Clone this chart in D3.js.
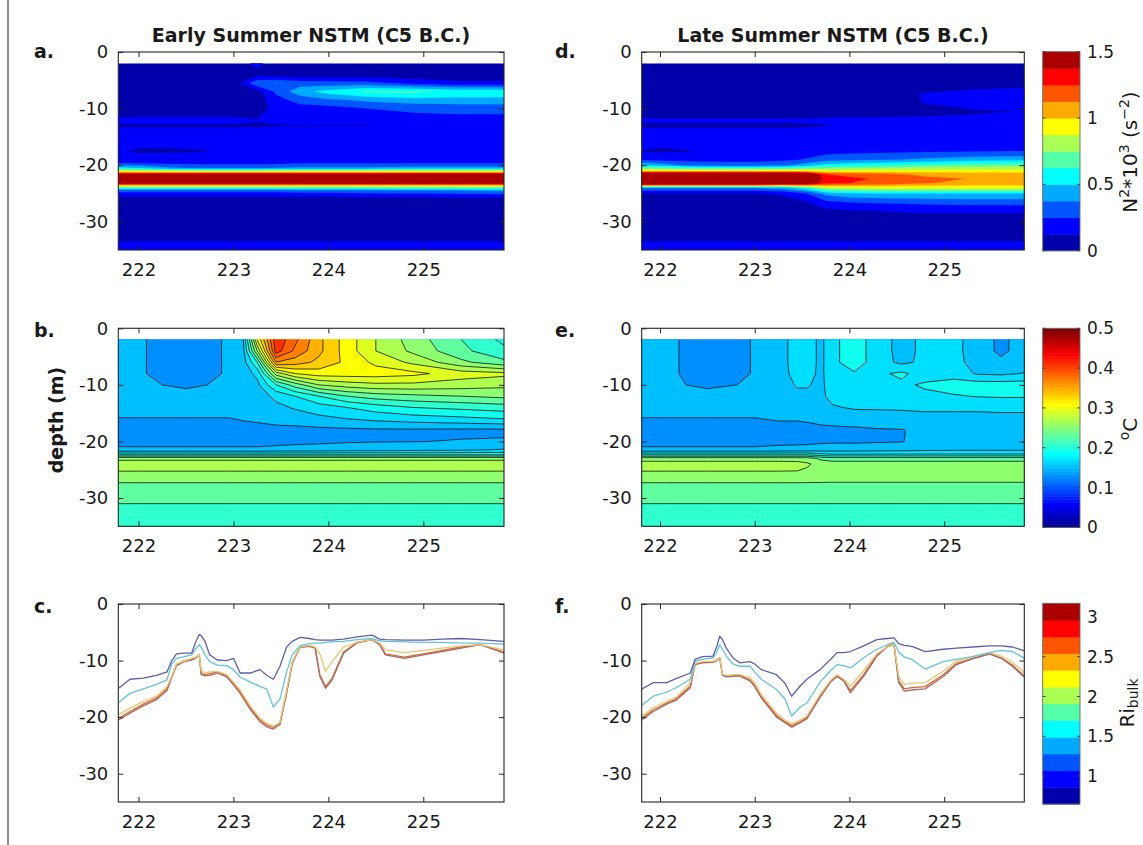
<!DOCTYPE html>
<html>
<head>
<meta charset="utf-8">
<script src="https://cdn.jsdelivr.net/npm/d3@7"></script>
<style>
  body { margin: 0; background: #fff; }
  svg { display: block; }
  text { font-family: "DejaVu Sans", "Liberation Sans", sans-serif; fill: #1a1a1a; }
</style>
</head>
<body>
<svg id="fig" width="1143" height="845"></svg>
<script>
// ---------------- N^2 * 10^3 (s^-2), early summer ----------------
const n2EarlyTimes  = [221.79, 222.0, 222.3, 222.7, 223.0, 223.25, 223.45, 223.7, 224.0, 224.4, 224.9, 225.4, 225.85];
const n2EarlyDepths = [-2, -4, -5.5, -7, -8.5, -10, -12, -13, -15, -17.5, -19.5, -20.5, -21.2, -21.8, -23, -23.7, -24.5, -26, -30, -33.3, -34, -35];
const n2Early = [
  [.05,.05,.05,.05,.05,.16,.05,.05,.05,.05,.05,.05,.05],
  [.05,.05,.05,.05,.05,.08,.05,.05,.06,.05,.05,.05,.05],
  [.05,.05,.05,.05,.05,.35,.38,.32,.30,.30,.20,.15,.15],
  [.05,.05,.05,.05,.05,.08,.28,.45,.55,.65,.66,.60,.60],
  [.05,.05,.05,.05,.05,.05,.20,.30,.35,.40,.45,.45,.45],
  [.05,.05,.05,.05,.05,.05,.18,.20,.20,.25,.28,.30,.30],
  [.15,.15,.15,.15,.15,.13,.15,.20,.19,.19,.20,.20,.20],
  [.115,.115,.115,.115,.115,.115,.12,.12,.12,.12,.18,.18,.18],
  [.18,.18,.18,.18,.18,.18,.18,.18,.19,.19,.19,.19,.19],
  [.14,.11,.11,.12,.18,.18,.18,.18,.19,.19,.19,.19,.19],
  [.20,.20,.20,.20,.20,.20,.20,.22,.22,.22,.22,.22,.22],
  [.55,.50,.40,.35,.35,.35,.38,.40,.40,.40,.42,.42,.42],
  [1.0,1.0,1.0,1.0,1.0,1.0,1.0,1.0,1.0,1.0,1.0,1.0,1.0],
  [1.7,1.7,1.7,1.7,1.7,1.7,1.7,1.7,1.7,1.7,1.7,1.7,1.7],
  [1.7,1.7,1.7,1.7,1.7,1.7,1.7,1.7,1.7,1.7,1.7,1.7,1.7],
  [.90,.90,.90,.90,.90,.90,.90,.90,.90,.90,.90,.90,.90],
  [.30,.30,.30,.30,.30,.30,.30,.32,.32,.34,.36,.38,.40],
  [.05,.05,.05,.05,.05,.05,.05,.05,.05,.05,.05,.05,.05],
  [.05,.05,.05,.05,.05,.05,.05,.05,.05,.05,.05,.05,.05],
  [.10,.10,.10,.10,.10,.10,.10,.10,.10,.10,.10,.10,.10],
  [.18,.18,.18,.18,.18,.18,.18,.18,.18,.18,.18,.18,.18],
  [.18,.18,.18,.18,.18,.18,.18,.18,.18,.18,.18,.18,.18]
];

// ---------------- N^2 * 10^3 (s^-2), late summer ----------------
const n2LateTimes  = [221.8, 222.0, 222.3, 222.7, 223.0, 223.3, 223.55, 223.75, 224.0, 224.4, 224.8, 225.3, 225.85];
const n2LateDepths = [-2, -4, -6, -7.5, -9, -10.5, -12, -13, -15, -17.5, -19, -20, -21, -21.6, -22.4, -23.2, -24, -25, -26.5, -28, -31, -33.3, -34, -35];
const n2Late = [
  [.05,.05,.05,.05,.05,.05,.05,.05,.05,.05,.05,.05,.05],
  [.05,.05,.05,.05,.05,.05,.05,.05,.05,.05,.05,.05,.05],
  [.05,.05,.05,.05,.05,.05,.05,.05,.05,.05,.05,.08,.10],
  [.05,.05,.05,.05,.05,.05,.05,.05,.05,.05,.14,.19,.20],
  [.05,.05,.05,.05,.05,.05,.05,.05,.05,.05,.13,.20,.20],
  [.05,.05,.05,.05,.05,.05,.05,.05,.05,.05,.06,.10,.13],
  [.14,.14,.14,.14,.14,.14,.14,.15,.16,.17,.17,.17,.17],
  [.11,.11,.11,.11,.11,.11,.115,.12,.16,.18,.18,.18,.18],
  [.18,.18,.18,.18,.18,.18,.18,.19,.19,.19,.20,.20,.20],
  [.12,.11,.12,.18,.18,.18,.19,.20,.21,.22,.23,.24,.25],
  [.22,.20,.20,.20,.20,.22,.26,.32,.34,.36,.40,.44,.46],
  [.50,.45,.35,.32,.32,.35,.45,.55,.58,.62,.66,.70,.72],
  [.95,.95,.95,.95,.95,.95,.95,.90,.90,.92,.92,.92,.92],
  [1.7,1.7,1.7,1.7,1.7,1.7,1.6,1.25,1.2,1.15,1.1,1.08,1.08],
  [1.7,1.7,1.7,1.7,1.7,1.7,1.65,1.32,1.28,1.22,1.15,1.12,1.12],
  [1.7,1.7,1.7,1.7,1.7,1.6,1.55,1.28,1.25,1.2,1.13,1.1,1.1],
  [.40,.40,.40,.40,.40,.45,.60,.85,.88,.90,.90,.90,.90],
  [.12,.12,.12,.12,.12,.15,.25,.42,.48,.50,.50,.50,.50],
  [.05,.05,.05,.05,.05,.06,.12,.22,.26,.28,.30,.32,.32],
  [.05,.05,.05,.05,.05,.05,.06,.10,.12,.13,.14,.14,.14],
  [.05,.05,.05,.05,.05,.05,.05,.05,.05,.05,.05,.05,.05],
  [.10,.10,.10,.10,.10,.10,.10,.10,.10,.10,.10,.10,.10],
  [.18,.18,.18,.18,.18,.18,.18,.18,.18,.18,.18,.18,.18],
  [.18,.18,.18,.18,.18,.18,.18,.18,.18,.18,.18,.18,.18]
];

// ---------------- temperature anomaly (°C), early summer ----------------
const tempEarlyTimes  = [221.79, 222.0, 222.5, 222.95, 223.1, 223.25, 223.45, 223.65, 223.9, 224.2, 224.5, 224.9, 225.4, 225.85];
const tempDepths      = [-2, -4, -6, -8, -10, -12, -14, -16, -18, -20, -21.5, -22.3, -23, -24, -25.5, -27.5, -30, -33, -35];
const tempEarly = [
  [.15,.142,.13,.142,.155,.30,.415,.385,.345,.31,.28,.25,.22,.195],
  [.15,.142,.13,.142,.152,.26,.41,.375,.345,.31,.28,.255,.225,.205],
  [.15,.142,.13,.142,.15,.20,.36,.35,.335,.315,.295,.275,.245,.225],
  [.15,.142,.13,.142,.15,.165,.27,.30,.31,.31,.31,.305,.29,.285],
  [.15,.145,.135,.145,.15,.155,.20,.23,.26,.27,.275,.275,.27,.265],
  [.15,.15,.15,.15,.15,.15,.165,.18,.20,.22,.23,.235,.24,.245],
  [.15,.15,.15,.15,.15,.15,.155,.162,.17,.18,.19,.20,.205,.21],
  [.139,.139,.139,.139,.142,.145,.15,.15,.155,.16,.165,.17,.175,.18],
  [.13,.13,.13,.13,.13,.13,.132,.134,.135,.136,.137,.137,.136,.136],
  [.13,.13,.13,.13,.13,.13,.132,.134,.136,.138,.139,.1395,.141,.142],
  [.146,.146,.146,.146,.146,.146,.148,.15,.15,.152,.153,.155,.157,.162],
  [.195,.195,.195,.195,.195,.195,.195,.195,.195,.195,.195,.195,.195,.195],
  [.255,.255,.255,.255,.255,.255,.255,.255,.255,.255,.255,.255,.255,.255],
  [.27,.27,.27,.27,.27,.27,.27,.27,.27,.27,.27,.27,.27,.27],
  [.258,.258,.258,.258,.258,.258,.258,.258,.258,.258,.258,.258,.258,.258],
  [.238,.238,.238,.238,.238,.238,.238,.238,.238,.238,.238,.238,.238,.238],
  [.224,.224,.224,.224,.224,.224,.224,.224,.224,.224,.224,.224,.224,.224],
  [.212,.212,.212,.212,.212,.212,.212,.212,.212,.212,.212,.212,.212,.212],
  [.208,.208,.208,.208,.208,.208,.208,.208,.208,.208,.208,.208,.208,.208]
];

// ---------------- temperature anomaly (°C), late summer ----------------
const tempLateTimes = [221.8, 222.05, 222.5, 223.0, 223.25, 223.45, 223.55, 223.7, 223.82, 224.05, 224.3, 224.55, 224.8, 225.1, 225.35, 225.6, 225.85];
const tempLate = [
  [.15,.145,.13,.141,.15,.17,.17,.155,.175,.19,.17,.153,.165,.165,.152,.135,.15],
  [.15,.145,.13,.141,.15,.17,.17,.155,.175,.19,.17,.153,.165,.165,.152,.135,.15],
  [.15,.145,.13,.141,.15,.17,.17,.155,.175,.19,.17,.155,.165,.165,.154,.145,.152],
  [.15,.145,.13,.141,.15,.168,.168,.155,.175,.178,.176,.184,.17,.17,.158,.156,.161],
  [.15,.145,.135,.143,.15,.162,.162,.155,.172,.172,.172,.176,.183,.19,.19,.19,.19],
  [.15,.15,.15,.15,.15,.155,.155,.156,.166,.17,.17,.17,.175,.178,.181,.182,.182],
  [.15,.15,.15,.15,.15,.15,.15,.152,.158,.162,.162,.162,.163,.163,.163,.164,.164],
  [.139,.139,.139,.139,.142,.142,.143,.146,.148,.15,.152,.154,.155,.155,.155,.155,.155],
  [.13,.13,.13,.13,.132,.132,.133,.135,.135,.136,.138,.139,.145,.147,.148,.148,.148],
  [.13,.13,.13,.13,.133,.133,.134,.136,.137,.137,.138,.139,.148,.15,.15,.15,.15],
  [.146,.146,.146,.146,.148,.15,.15,.152,.152,.152,.154,.155,.157,.158,.158,.158,.158],
  [.195,.195,.195,.195,.195,.195,.195,.185,.182,.182,.182,.182,.182,.182,.182,.182,.182],
  [.25,.25,.25,.25,.25,.25,.25,.235,.23,.23,.23,.23,.23,.23,.23,.23,.23],
  [.27,.27,.27,.27,.27,.268,.263,.253,.25,.25,.25,.25,.25,.25,.25,.25,.25],
  [.258,.258,.258,.258,.258,.258,.256,.254,.252,.252,.252,.252,.252,.252,.252,.252,.252],
  [.238,.238,.238,.238,.238,.238,.238,.238,.238,.238,.238,.238,.238,.238,.238,.238,.238],
  [.224,.224,.224,.224,.224,.224,.224,.224,.224,.224,.224,.224,.224,.224,.224,.224,.224],
  [.212,.212,.212,.212,.212,.212,.212,.212,.212,.212,.212,.212,.212,.212,.212,.212,.212],
  [.208,.208,.208,.208,.208,.208,.208,.208,.208,.208,.208,.208,.208,.208,.208,.208,.208]
];

// ---------------- mixed-layer depth (m) for bulk Richardson thresholds ----------------
const riEarlyTimes = [221.79, 221.91, 222.05, 222.19, 222.30, 222.35, 222.40, 222.48, 222.56, 222.60,
                      222.64, 222.66, 222.70, 222.75, 222.83, 222.93, 223.00, 223.07, 223.18, 223.28,
                      223.35, 223.42, 223.49, 223.56, 223.62, 223.70, 223.80, 223.86, 223.91, 223.97,
                      224.04, 224.16, 224.30, 224.46, 224.54, 224.60, 224.80, 225.00, 225.20, 225.40,
                      225.60, 225.85];
const mldEarlyPurple = [-14.9,-13.3,-13.1,-12.6,-12.0,-10.0,-8.8,-8.7,-8.7,-6.8,
                        -5.4,-5.6,-6.6,-9.0,-9.9,-10.0,-9.6,-12.2,-12.2,-11.6,
                        -12.6,-13.3,-11.0,-7.6,-6.6,-5.9,-6.1,-6.3,-6.4,-6.4,
                        -6.4,-6.2,-5.8,-5.5,-6.2,-6.3,-6.4,-6.4,-6.2,-6.1,
                        -6.3,-6.6];
const mldEarlyCyan   = [-17.4,-15.8,-15.0,-14.2,-13.4,-10.6,-9.6,-9.3,-9.0,-8.0,
                        -7.2,-7.6,-9.0,-10.2,-10.8,-10.9,-11.6,-12.9,-13.8,-14.6,
                        -15.0,-18.2,-16.8,-12.0,-9.0,-7.4,-7.0,-6.9,-6.9,-6.8,
                        -6.7,-6.6,-6.3,-6.1,-6.5,-6.6,-6.7,-6.8,-6.8,-6.9,
                        -6.9,-7.1];
const mldEarlyYellow = [-19.6,-18.4,-17.2,-16.3,-14.6,-12.8,-10.6,-10.1,-9.6,-9.4,
                        -9.0,-11.8,-12.2,-12.0,-11.9,-12.5,-13.8,-15.2,-18.1,-20.2,
                        -21.1,-21.6,-20.9,-15.2,-10.2,-7.6,-7.3,-7.6,-8.8,-11.9,
                        -10.2,-7.6,-6.8,-6.3,-6.9,-8.1,-8.6,-8.2,-7.8,-7.4,
                        -7.2,-8.1];
const mldEarlyOrange = [-20.2,-19.0,-17.7,-16.6,-15.0,-12.8,-10.7,-10.0,-9.7,-9.5,
                        -9.0,-12.3,-12.5,-12.3,-12.0,-12.7,-14.0,-15.5,-18.4,-20.5,
                        -21.4,-21.8,-21.0,-15.5,-10.3,-7.6,-7.4,-7.7,-12.5,-14.6,
                        -13.1,-8.5,-6.8,-6.3,-7.1,-8.8,-9.4,-8.8,-8.2,-7.6,
                        -7.2,-8.5];
const mldEarlyBrown  = [-20.5,-19.3,-18.0,-16.9,-15.3,-13.0,-10.9,-10.2,-9.9,-9.6,
                        -9.0,-12.5,-12.7,-12.6,-12.2,-12.9,-14.3,-15.8,-18.7,-20.8,
                        -21.7,-22.1,-21.3,-15.8,-10.5,-7.7,-7.5,-7.8,-12.8,-14.9,
                        -13.4,-8.7,-6.9,-6.3,-7.2,-9.0,-9.6,-9.0,-8.4,-7.8,
                        -7.2,-8.7];

const riLateTimes = [221.80, 221.93, 222.07, 222.17, 222.32, 222.37, 222.45, 222.56, 222.60, 222.63,
                     222.66, 222.70, 222.77, 222.84, 222.95, 223.00, 223.07, 223.23, 223.32, 223.39,
                     223.48, 223.55, 223.69, 223.80, 223.87, 223.94, 224.01, 224.15, 224.29, 224.40,
                     224.47, 224.52, 224.58, 224.66, 224.80, 224.99, 225.13, 225.30, 225.48, 225.60,
                     225.72, 225.85];
const mldLatePurple = [-15.1,-13.9,-13.9,-13.2,-12.2,-9.8,-9.3,-9.2,-7.5,-5.7,
                       -6.3,-7.8,-9.5,-10.4,-10.2,-10.6,-11.6,-12.5,-14.0,-16.3,
                       -14.5,-13.3,-11.6,-9.8,-8.6,-8.6,-8.4,-7.4,-6.3,-6.1,
                       -6.0,-7.0,-7.3,-7.5,-8.4,-8.0,-7.8,-7.6,-7.4,-7.4,
                       -7.6,-8.3];
const mldLateCyan   = [-18.0,-16.3,-15.6,-14.8,-13.3,-10.1,-9.8,-9.5,-8.5,-7.2,
                       -8.0,-9.2,-10.6,-11.0,-11.0,-12.0,-13.3,-15.1,-16.8,-19.8,
                       -18.2,-17.5,-13.8,-11.8,-10.7,-10.9,-11.3,-9.5,-8.0,-7.2,
                       -6.8,-8.5,-9.4,-9.8,-11.5,-10.2,-9.8,-9.3,-8.6,-8.2,
                       -8.4,-9.6];
const mldLateYellow = [-20.0,-18.3,-17.2,-16.5,-13.9,-10.5,-10.2,-10.1,-9.9,-9.5,
                       -12.4,-12.6,-12.5,-12.5,-13.0,-14.0,-16.0,-19.3,-20.5,-21.2,
                       -20.5,-19.8,-16.0,-13.5,-12.5,-13.3,-14.5,-11.8,-8.8,-7.6,
                       -7.2,-12.8,-14.2,-14.0,-13.9,-11.9,-10.1,-9.3,-8.6,-9.2,
                       -10.3,-12.1];
const mldLateOrange = [-20.3,-18.7,-17.5,-16.8,-14.5,-10.6,-10.3,-10.2,-9.9,-9.5,
                       -12.5,-12.8,-12.7,-12.6,-13.4,-14.4,-16.4,-19.7,-20.8,-21.5,
                       -20.8,-20.1,-16.3,-13.7,-12.7,-13.5,-15.3,-12.5,-9.0,-7.5,
                       -7.1,-13.6,-15.0,-14.8,-14.6,-12.5,-10.5,-9.6,-8.8,-9.5,
                       -10.8,-12.8];
const mldLateBrown  = [-20.6,-19.0,-17.7,-17.0,-14.8,-10.7,-10.4,-10.3,-10.0,-9.5,
                       -12.6,-12.9,-12.8,-12.7,-13.6,-14.6,-16.6,-20.0,-21.0,-21.8,
                       -21.0,-20.3,-16.5,-13.8,-12.8,-13.6,-15.7,-12.8,-9.2,-7.6,
                       -7.2,-13.9,-15.4,-15.2,-15.0,-12.8,-10.7,-9.7,-8.8,-9.6,
                       -11.0,-13.0];

// axis ticks and colour-bar ticks
const dayTicks   = [222, 223, 224, 225];
const depthTicks = [0, -10, -20, -30];
const n2Ticks    = [0, 0.5, 1, 1.5];
const tempTicks  = [0, 0.1, 0.2, 0.3, 0.4, 0.5];
const riTicks    = [1, 1.5, 2, 2.5, 3];

// ---------------- layout ----------------
const svg = d3.select("#fig");
const columns = [
  { x0: 118.3, x1: 504, domain: [221.787, 225.85] },
  { x0: 641.7, x1: 1024.3, domain: [221.807, 225.846] }
];
const rowTops = [52, 328.3, 604];
const plotH = 198;
const dataTop = -2;
const frameColor = "#262626";

// MATLAB-style jet colormap with m entries
function matlabJet(m) {
  const n = Math.ceil(m / 4);
  const u = [...d3.range(1, n + 1).map(i => i / n), ...Array(n - 1).fill(1), ...d3.range(n, 0, -1).map(i => i / n)];
  const off = Math.ceil(n / 2) - (m % 4 === 1 ? 1 : 0);
  const cols = Array.from({ length: m }, () => [0, 0, 0]);
  u.forEach((v, k) => {
    const gi = off + k + 1, ri = gi + n, bi = gi - n;
    if (gi >= 1 && gi <= m) cols[gi - 1][1] = v;
    if (ri >= 1 && ri <= m) cols[ri - 1][0] = v;
    if (bi >= 1 && bi <= m) cols[bi - 1][2] = v;
  });
  return cols.map(c => d3.rgb(c[0] * 255, c[1] * 255, c[2] * 255).formatHex());
}
const jet12 = matlabJet(12);
const jet64 = matlabJet(64);
const tempColor = v => jet64[Math.max(0, Math.min(63, Math.floor(v / 0.5 * 64)))];

let clipCount = 0;
function makePanel(col, row) {
  const c = columns[col];
  const x = d3.scaleLinear().domain(c.domain).range([c.x0, c.x1]);
  const y = d3.scaleLinear().domain([-35, 0]).range([rowTops[row] + plotH, rowTops[row]]);
  const g = svg.append("g");
  const id = "clip" + (clipCount++);
  svg.append("clipPath").attr("id", id).append("rect")
    .attr("x", c.x0).attr("y", y(0)).attr("width", c.x1 - c.x0).attr("height", plotH);
  return { g, x, y, clipId: id, x0: c.x0, x1: c.x1 };
}

// filled contour field on an irregular time/depth grid
function drawField(p, times, depths, rows, thresholds, colorFor, baseColor, lined) {
  const { g, x, y } = p;
  const nx = times.length + 2, ny = depths.length + 2;
  const padT = [times[0] - 0.5, ...times, times[times.length - 1] + 0.5];
  const padD = [depths[0] + 2, ...depths, depths[depths.length - 1] - 2];
  const grid = new Float64Array(nx * ny);
  for (let j = 0; j < ny; j++) {
    const r = rows[Math.max(0, Math.min(depths.length - 1, j - 1))];
    for (let i = 0; i < nx; i++) grid[j * nx + i] = r[Math.max(0, Math.min(times.length - 1, i - 1))];
  }
  const ti = d3.scaleLinear().domain(d3.range(nx)).range(padT);
  const di = d3.scaleLinear().domain(d3.range(ny)).range(padD);
  const path = d3.geoPath(d3.geoTransform({
    point(px, py) { this.stream.point(x(ti(px - 0.5)), y(di(py - 0.5))); }
  }));
  const clipData = "dclip" + (clipCount++);
  svg.append("clipPath").attr("id", clipData).append("rect")
    .attr("x", p.x0).attr("y", y(dataTop)).attr("width", p.x1 - p.x0).attr("height", y(-35) - y(dataTop));
  const layer = g.append("g").attr("clip-path", `url(#${clipData})`);
  layer.append("rect").attr("x", p.x0).attr("y", y(dataTop))
    .attr("width", p.x1 - p.x0).attr("height", y(-35) - y(dataTop)).attr("fill", baseColor);
  d3.contours().size([nx, ny]).thresholds(thresholds)(grid).forEach(c => {
    layer.append("path").attr("d", path(c))
      .attr("fill", colorFor(c.value))
      .attr("stroke", lined ? "#141414" : "none")
      .attr("stroke-width", lined ? 0.8 : 0)
      .attr("stroke-linejoin", "round");
  });
}

function drawAxes(p) {
  const { g, x, y } = p;
  const fmt = d => String(d);
  const bottom = g.append("g").attr("transform", `translate(0,${y(-35)})`)
    .call(d3.axisBottom(x).tickValues(dayTicks).tickSizeInner(-5).tickSizeOuter(0).tickPadding(13).tickFormat(fmt));
  const top = g.append("g").attr("transform", `translate(0,${y(0)})`)
    .call(d3.axisTop(x).tickValues(dayTicks).tickSizeInner(-5).tickSizeOuter(0).tickFormat(""));
  const left = g.append("g").attr("transform", `translate(${p.x0},0)`)
    .call(d3.axisLeft(y).tickValues(depthTicks).tickSizeInner(-5).tickSizeOuter(0).tickPadding(10).tickFormat(fmt));
  const right = g.append("g").attr("transform", `translate(${p.x1},0)`)
    .call(d3.axisRight(y).tickValues(depthTicks).tickSizeInner(-5).tickSizeOuter(0).tickFormat(""));
  [bottom, top, left, right].forEach(a => {
    a.select(".domain").remove();
    a.selectAll(".tick line").attr("stroke", frameColor).attr("stroke-width", 1);
    a.selectAll("text").attr("font-size", 18).attr("font-family", '"DejaVu Sans", sans-serif').attr("fill", "#1a1a1a");
  });
  g.append("rect").attr("x", p.x0).attr("y", y(0)).attr("width", p.x1 - p.x0).attr("height", plotH)
    .attr("fill", "none").attr("stroke", frameColor).attr("stroke-width", 1.1);
}

function drawLines(p, times, series) {
  const line = d3.line().x((d, i) => p.x(times[i])).y(d => p.y(d));
  const layer = p.g.append("g").attr("clip-path", `url(#${p.clipId})`);
  series.forEach(s => {
    layer.append("path").attr("d", line(s.values)).attr("fill", "none")
      .attr("stroke", s.color).attr("stroke-width", 1.3).attr("stroke-linejoin", "round");
  });
}

// ---------------- panels ----------------
const n2Thresholds = d3.range(1, 12).map(k => k * 0.125);
const n2Fill = v => jet12[Math.min(11, Math.round(v / 0.125))];
const tempThresholds = d3.range(5, 23).map(k => +(k * 0.02).toFixed(2));
const tempFill = v => tempColor(v + 0.01);

const pa = makePanel(0, 0);
drawField(pa, n2EarlyTimes, n2EarlyDepths, n2Early, n2Thresholds, n2Fill, jet12[0], false);
drawAxes(pa);
const pd = makePanel(1, 0);
drawField(pd, n2LateTimes, n2LateDepths, n2Late, n2Thresholds, n2Fill, jet12[0], false);
drawAxes(pd);

const pb = makePanel(0, 1);
drawField(pb, tempEarlyTimes, tempDepths, tempEarly, tempThresholds, tempFill, tempColor(0.09), true);
drawAxes(pb);
const pe = makePanel(1, 1);
drawField(pe, tempLateTimes, tempDepths, tempLate, tempThresholds, tempFill, tempColor(0.09), true);
drawAxes(pe);

const lineColors = { brown: "#a86a6c", yellow: "#ebc772", orange: "#d26a2e", cyan: "#64c3d9", purple: "#5f5fa6" };
const pc = makePanel(0, 2);
drawLines(pc, riEarlyTimes, [
  { values: mldEarlyOrange, color: lineColors.orange },
  { values: mldEarlyBrown, color: lineColors.brown },
  { values: mldEarlyYellow, color: lineColors.yellow },
  { values: mldEarlyCyan, color: lineColors.cyan },
  { values: mldEarlyPurple, color: lineColors.purple }
]);
drawAxes(pc);
const pf = makePanel(1, 2);
drawLines(pf, riLateTimes, [
  { values: mldLateOrange, color: lineColors.orange },
  { values: mldLateBrown, color: lineColors.brown },
  { values: mldLateYellow, color: lineColors.yellow },
  { values: mldLateCyan, color: lineColors.cyan },
  { values: mldLatePurple, color: lineColors.purple }
]);
drawAxes(pf);

// ---------------- colour bars ----------------
function colorBar(top, bottom, domain, colors, ticks) {
  const x0 = 1042.7, w = 37.3;
  const s = d3.scaleLinear().domain(domain).range([bottom, top]);
  const g = svg.append("g");
  const n = colors.length, step = (domain[1] - domain[0]) / n;
  colors.forEach((c, i) => {
    const a = s(domain[0] + i * step), b = s(domain[0] + (i + 1) * step);
    g.append("rect").attr("x", x0).attr("y", b).attr("width", w).attr("height", a - b + 0.5).attr("fill", c);
  });
  g.append("rect").attr("x", x0).attr("y", top).attr("width", w).attr("height", bottom - top)
    .attr("fill", "none").attr("stroke", "#6a6a6a").attr("stroke-width", 0.9);
  ticks.forEach(t => {
    g.append("line").attr("x1", x0 + w - 3).attr("x2", x0 + w).attr("y1", s(t)).attr("y2", s(t)).attr("stroke", "#444");
    g.append("line").attr("x1", x0).attr("x2", x0 + 3).attr("y1", s(t)).attr("y2", s(t)).attr("stroke", "#444");
    g.append("text").attr("x", 1087).attr("y", s(t)).attr("dy", "0.36em").attr("font-size", 17).text(String(t));
  });
}
colorBar(51.7, 250.7, [0, 1.5], jet12, n2Ticks);
colorBar(328.3, 527.3, [0, 0.5], jet64, tempTicks);
colorBar(603.3, 804, [0.65, 3.17], jet12, riTicks);

// colour-bar titles (rotated)
const n2Title = svg.append("text").attr("transform", "translate(1137,152) rotate(-90)")
  .attr("text-anchor", "middle").attr("font-size", 20);
n2Title.append("tspan").text("N");
n2Title.append("tspan").attr("dy", -8).attr("font-size", 14).text("2");
n2Title.append("tspan").attr("dy", 8).text("*10");
n2Title.append("tspan").attr("dy", -8).attr("font-size", 14).text("3");
n2Title.append("tspan").attr("dy", 8).text(" (s");
n2Title.append("tspan").attr("dy", -8).attr("font-size", 14).text("−2");
n2Title.append("tspan").attr("dy", 8).text(")");

const tTitle = svg.append("text").attr("transform", "translate(1137,429) rotate(-90)")
  .attr("text-anchor", "middle").attr("font-size", 20);
tTitle.append("tspan").attr("dy", -8).attr("font-size", 14).text("o");
tTitle.append("tspan").attr("dy", 8).text("C");

const riTitle = svg.append("text").attr("transform", "translate(1134,703) rotate(-90)")
  .attr("text-anchor", "middle").attr("font-size", 20);
riTitle.append("tspan").text("Ri");
riTitle.append("tspan").attr("dy", 4).attr("font-size", 14).text("bulk");

// ---------------- titles and labels ----------------
const bold = sel => sel.attr("font-weight", "bold").attr("font-size", 19);
bold(svg.append("text").attr("x", 311).attr("y", 42).attr("text-anchor", "middle")).text("Early Summer NSTM (C5 B.C.)");
bold(svg.append("text").attr("x", 833).attr("y", 42).attr("text-anchor", "middle")).text("Late Summer NSTM (C5 B.C.)");
[["a.", 34, 58], ["b.", 34, 337], ["c.", 34, 613], ["d.", 555, 58], ["e.", 555, 337], ["f.", 555, 613]]
  .forEach(([t, x, y]) => bold(svg.append("text").attr("x", x).attr("y", y)).text(t));
bold(svg.append("text").attr("transform", "translate(63,420) rotate(-90)").attr("text-anchor", "middle")).text("depth (m)");

// figure edge
svg.append("line").attr("x1", 8).attr("x2", 8).attr("y1", 0).attr("y2", 845).attr("stroke", "#444").attr("stroke-width", 1.2);
</script>
</body>
</html>
